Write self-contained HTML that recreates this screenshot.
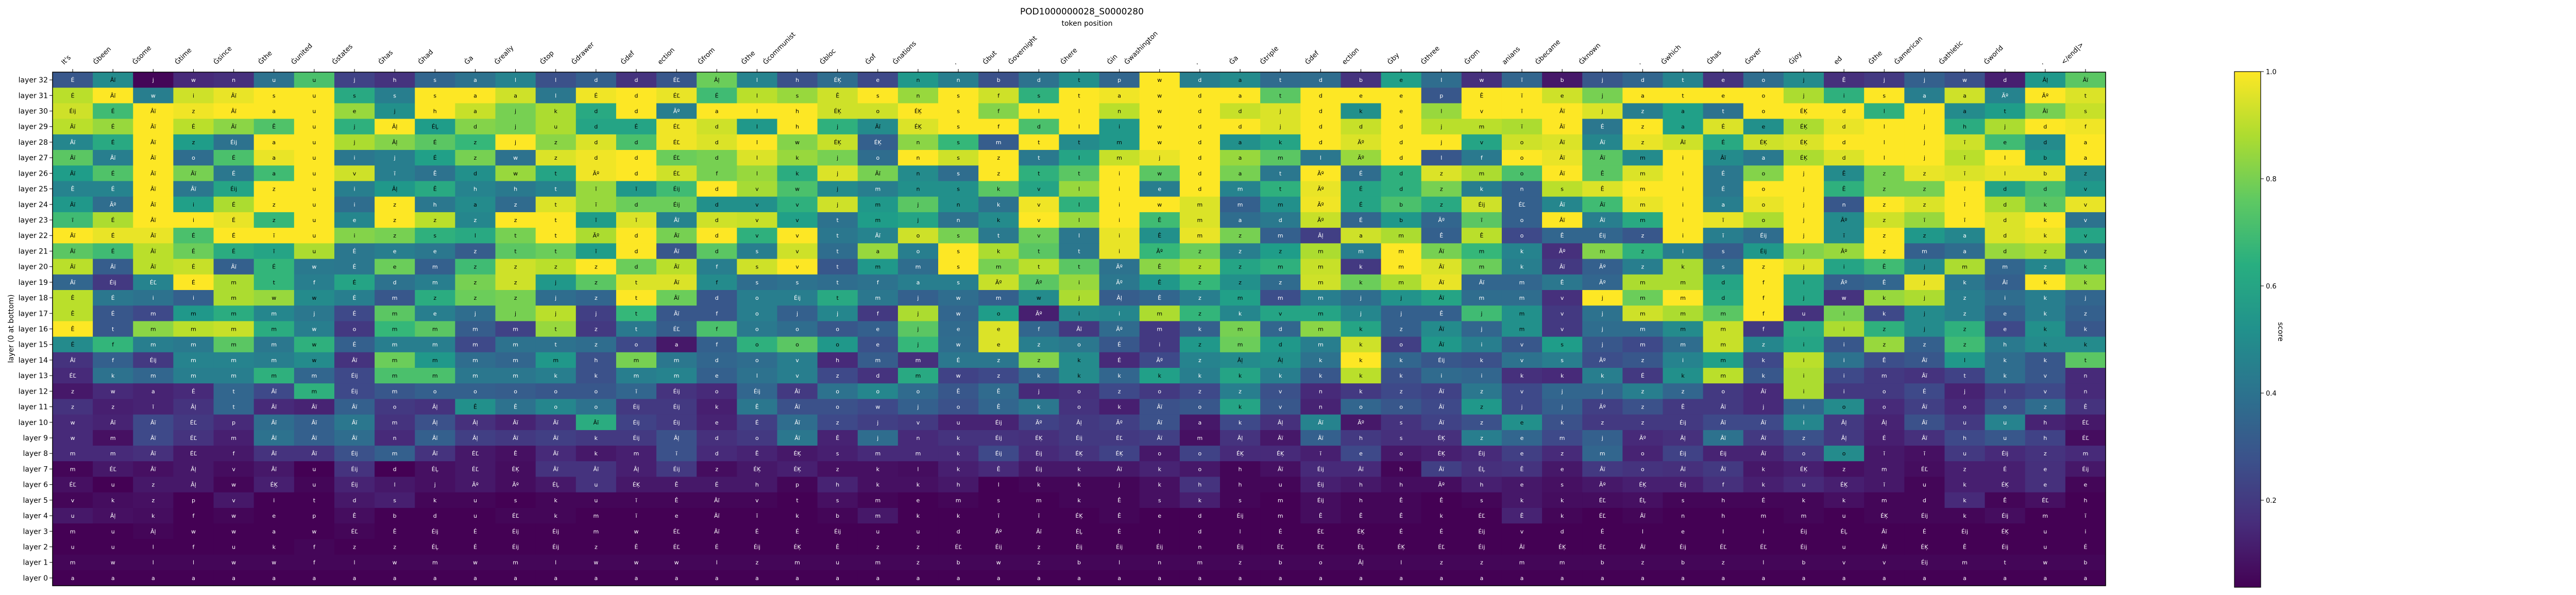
<!DOCTYPE html>
<html><head><meta charset="utf-8"><style>
html,body{margin:0;padding:0;background:#fff;}
svg{display:block;font-family:"DejaVu Sans","Liberation Sans",sans-serif;}
</style></head><body>
<svg id="chart" width="5100" height="1155" viewBox="0 0 5100 1155" xmlns="http://www.w3.org/2000/svg">
<text x="2100" y="28" text-anchor="middle" font-size="17">POD1000000028_S0000280</text>
<text x="2110" y="50" text-anchor="middle" font-size="14">token position</text>
<text transform="translate(26,638) rotate(-90)" text-anchor="middle" font-size="14">layer (0 at bottom)</text>
<g id="cells"></g><g id="xticks"></g><g id="yticks"></g>
<rect x="102" y="140" width="3985" height="997" fill="none" stroke="#000" stroke-width="1.5"/>
<defs><linearGradient id="vir" x1="0" y1="1" x2="0" y2="0">
<stop offset="0" stop-color="#440154"/><stop offset="0.125" stop-color="#472d7b"/><stop offset="0.25" stop-color="#3b528b"/><stop offset="0.375" stop-color="#2c728e"/><stop offset="0.5" stop-color="#21918c"/><stop offset="0.625" stop-color="#28ae80"/><stop offset="0.75" stop-color="#5ec962"/><stop offset="0.875" stop-color="#addc30"/><stop offset="1" stop-color="#fde725"/></linearGradient></defs>
<rect x="4337" y="139" width="51" height="1001" fill="url(#vir)" stroke="#000" stroke-width="1.2"/>
<g id="cbticks"></g>
<text transform="translate(4422,644) rotate(90)" text-anchor="middle" font-size="14">score</text>
</svg>
<script>
const tokens = ["It's","Ġbeen","Ġsome","Ġtime","Ġsince","Ġthe","Ġunited","Ġstates","Ġhas","Ġhad","Ġa","Ġreally","Ġtop","Ġdrawer","Ġdef","ection","Ġfrom","Ġthe","Ġcommunist","Ġbloc","Ġof","Ġnations",".","Ġbut","Ġovernight","Ġhere","Ġin","Ġwashington",".","Ġa","Ġtriple","Ġdef","ection","Ġby","Ġthree","Ġrom","anians","Ġbecame","Ġknown",".","Ġwhich","Ġhas","Ġover","Ġjoy","ed","Ġthe","Ġamerican","Ġathletic","Ġworld",".","</end|>"];
const layers = [32,31,30,29,28,27,26,25,24,23,22,21,20,19,18,17,16,15,14,13,12,11,10,9,8,7,6,5,4,3,2,1,0];
const colorbarTicks = [0.2,0.4,0.6,0.8,1.0];
const layer32 = [0.3,0.5,0.05,0.15,0.17,0.4,0.72,0.23,0.18,0.35,0.4,0.47,0.28,0.33,0.18,0.3,0.78,0.47,0.28,0.38,0.25,0.55,0.45,0.28,0.4,0.52,0.35,1,0.45,0.5,0.37,0.38,0.18,0.58,0.38,0.17,0.35,0.1,0.3,0.35,0.47,0.18,0.38,0.5,0.17,0.2,0.33,0.28,0.12,0.55,0.75];
const layer31 = [0.9,1,0.45,0.93,0.97,1,1,0.62,0.45,1,1,0.93,0.42,0.98,1,0.97,0.7,0.9,0.85,0.93,1,0.85,1,0.93,0.65,1,0.98,1,1,1,0.75,1,1,1,0.3,1,1,0.93,0.8,1,1,1,1,0.88,0.65,1,0.45,0.93,0.47,1,0.95];
const layer30 = [0.93,0.7,1,0.98,1,1,1,0.85,0.52,1,0.92,0.8,0.88,0.62,1,0.45,1,1,1,0.93,0.93,1,1,0.82,1,1,0.9,1,1,0.92,0.95,1,0.52,1,0.85,1,1,1,0.95,0.45,0.58,0.4,1,1,1,0.65,1,0.5,0.57,0.8,0.92];
const layer29 = [0.9,0.85,1,0.9,0.83,0.73,1,0.65,1,0.57,0.82,0.8,0.88,0.6,0.6,0.98,0.93,0.55,1,0.65,0.5,0.95,1,1,0.72,1,0.55,1,1,1,0.95,1,0.92,1,0.9,0.9,0.88,1,0.42,1,0.58,0.95,0.52,0.88,0.97,1,1,0.63,0.88,1,0.98];
const layer28 = [0.48,0.62,1,0.57,0.4,1,1,0.88,0.82,0.75,0.68,1,0.83,0.95,0.72,0.98,0.95,1,0.82,0.92,0.33,0.83,0.68,0.32,1,0.5,0.55,1,1,0.52,0.6,1,0.95,1,1,0.6,0.93,0.95,0.48,0.97,0.93,0.62,0.93,0.95,1,1,1,0.93,0.7,0.5,1];
const layer27 = [0.75,0.45,1,0.38,0.72,0.97,1,0.42,0.45,0.58,0.8,0.4,0.95,0.98,1,0.78,0.8,0.95,0.85,0.8,0.38,1,0.93,1,0.43,0.6,0.92,0.97,1,0.85,0.75,0.42,0.85,1,0.3,0.43,1,0.97,0.75,0.5,1,0.5,0.43,0.88,0.95,1,1,0.9,1,0.55,1];
const layer26 = [0.57,0.73,1,0.8,0.42,0.7,1,0.93,0.45,0.4,0.52,0.85,0.6,0.98,1,0.93,0.8,0.85,0.63,0.95,0.8,0.5,0.38,1,0.65,0.75,1,0.75,1,0.8,0.42,1,0.38,0.65,0.95,0.88,0.72,1,0.75,0.95,1,0.42,0.82,1,0.5,0.8,0.97,0.95,0.97,0.97,0.5];
const layer25 = [0.47,0.47,1,0.42,0.6,1,1,0.45,0.55,0.62,0.47,0.43,0.47,0.85,0.55,0.7,1,0.87,0.72,0.5,0.45,0.52,0.52,0.75,0.6,0.85,1,0.45,1,0.47,0.65,0.97,0.6,0.65,0.8,0.45,0.33,0.9,0.95,1,1,0.42,1,1,0.65,0.8,0.8,1,0.6,0.72,0.55];
const layer24 = [0.55,0.38,1,0.58,0.88,1,1,0.38,1,0.42,0.5,0.37,0.95,0.85,0.78,0.78,0.52,0.52,0.65,0.93,0.55,0.75,0.52,0.4,0.98,0.65,1,1,0.95,0.33,0.52,0.98,0.6,0.72,0.62,0.93,0.33,0.48,0.7,0.97,1,0.45,0.97,1,0.3,1,0.95,1,0.88,0.75,0.97];
const layer23 = [0.7,0.88,1,1,0.97,0.68,1,0.48,1,0.9,0.48,1,1,0.57,0.95,0.47,0.93,0.92,0.58,0.4,0.57,0.6,0.4,0.5,1,0.85,1,0.7,0.95,0.38,0.43,0.92,0.35,0.55,0.35,0.75,0.33,1,0.45,0.62,1,0.97,0.88,1,0.5,0.93,0.85,1,0.95,1,0.4];
const layer22 = [1,0.97,0.97,0.72,1,1,1,0.82,0.8,0.65,0.62,0.8,1,0.88,1,0.8,1,0.65,1,0.42,0.47,0.93,0.8,0.43,0.78,0.42,0.97,0.52,0.97,0.8,0.33,0.22,0.93,0.88,0.33,0.9,0.25,0.35,0.35,0.3,1,0.45,0.38,1,0.5,1,0.55,0.48,0.95,0.97,0.6];
const layer21 = [0.75,0.7,0.9,0.78,0.63,0.6,0.88,0.42,0.45,0.42,0.32,0.75,0.78,0.57,1,0.3,0.75,0.45,0.93,0.38,0.85,0.45,1,0.88,0.75,0.42,0.97,0.68,0.78,0.45,0.57,0.88,0.45,1,0.8,0.68,0.47,0.17,0.82,0.65,0.45,0.32,0.55,0.82,0.85,1,0.33,0.38,0.85,0.88,0.38];
const layer20 = [0.9,0.32,0.9,0.92,0.33,0.67,0.43,0.42,0.78,0.33,0.7,0.93,0.9,1,0.78,0.9,0.45,0.93,1,0.3,0.55,0.38,1,0.8,0.9,0.75,0.4,0.83,0.88,0.6,0.65,0.92,0.2,1,0.95,0.78,0.45,0.2,0.33,0.45,0.88,0.4,1,0.95,0.6,0.7,0.5,0.88,0.35,0.48,0.7];
const layer19 = [0.35,0.2,0.47,1,0.88,0.67,0.45,0.6,0.4,0.45,0.8,0.93,0.55,0.75,0.95,0.95,0.5,0.38,0.4,0.38,0.4,0.45,0.45,0.92,0.75,0.85,0.42,0.55,0.68,0.52,0.37,0.93,0.78,0.88,0.97,0.35,0.35,0.42,0.35,0.88,0.88,0.6,1,0.6,0.33,0.35,0.97,0.42,0.33,1,0.85];
const layer18 = [0.9,0.42,0.4,0.33,0.88,0.85,0.5,0.45,0.3,0.63,0.78,0.8,0.38,0.35,1,0.78,0.3,0.45,0.45,0.62,0.42,0.33,0.38,0.33,0.5,0.88,0.32,0.35,0.45,0.58,0.27,0.45,0.38,0.53,0.6,0.38,0.38,0.17,1,0.78,1,0.62,1,0.6,0.18,0.85,0.88,0.45,0.38,0.45,0.35];
const layer17 = [0.9,0.3,0.25,0.55,0.63,0.48,0.42,0.25,0.75,0.45,0.38,0.8,0.9,0.22,0.68,0.3,0.3,0.45,0.33,0.48,0.2,0.88,0.35,0.57,0.12,0.5,0.48,0.88,0.67,0.48,0.6,0.6,0.48,0.33,0.33,0.7,0.52,0.2,0.4,0.93,0.88,0.75,1,0.18,0.8,0.25,0.5,0.45,0.33,0.45,0.33];
const layer16 = [1,0.3,0.83,0.9,0.92,0.63,0.45,0.2,0.68,0.75,0.32,0.23,0.85,0.2,0.43,0.32,0.72,0.43,0.38,0.3,0.33,0.75,0.37,0.95,0.35,0.2,0.37,0.2,0.33,0.8,0.35,0.83,0.6,0.33,0.5,0.35,0.52,0.2,0.38,0.38,0.5,0.92,0.2,0.62,0.88,0.65,0.5,0.65,0.25,0.52,0.3];
const layer15 = [0.5,0.67,0.45,0.43,0.75,0.42,0.65,0.33,0.45,0.45,0.25,0.4,0.4,0.38,0.25,0.1,0.33,0.65,0.75,0.55,0.28,0.68,0.38,0.95,0.45,0.42,0.3,0.2,0.55,0.78,0.55,0.45,0.93,0.22,0.55,0.45,0.3,0.57,0.3,0.25,0.38,0.92,0.48,0.6,0.3,0.85,0.33,0.7,0.43,0.5,0.5];
const layer14 = [0.18,0.33,0.2,0.47,0.47,0.45,0.5,0.18,0.78,0.55,0.38,0.35,0.55,0.28,0.8,0.42,0.35,0.38,0.45,0.15,0.32,0.17,0.42,0.42,0.82,0.5,0.15,0.25,0.47,0.5,0.52,0.4,1,0.35,0.3,0.28,0.4,0.45,0.27,0.3,0.47,0.58,0.25,0.9,0.4,0.27,0.3,0.55,0.38,0.3,0.75];
const layer13 = [0.15,0.4,0.35,0.45,0.45,0.65,0.35,0.25,0.72,0.72,0.42,0.42,0.45,0.28,0.45,0.47,0.33,0.4,0.45,0.25,0.18,0.62,0.23,0.25,0.35,0.5,0.35,0.58,0.45,0.6,0.45,0.3,0.9,0.28,0.37,0.35,0.17,0.15,0.45,0.2,0.52,0.9,0.3,0.88,0.25,0.2,0.18,0.23,0.38,0.3,0.15];
const layer12 = [0.1,0.15,0.13,0.15,0.35,0.25,0.65,0.25,0.3,0.33,0.33,0.32,0.3,0.3,0.35,0.18,0.15,0.35,0.2,0.4,0.48,0.37,0.3,0.37,0.15,0.17,0.25,0.2,0.25,0.45,0.28,0.15,0.2,0.25,0.23,0.42,0.25,0.35,0.35,0.45,0.35,0.2,0.15,0.88,0.2,0.2,0.25,0.13,0.22,0.25,0.15];
const layer11 = [0.18,0.12,0.13,0.18,0.35,0.15,0.13,0.33,0.2,0.18,0.52,0.4,0.48,0.4,0.2,0.2,0.12,0.42,0.28,0.28,0.25,0.33,0.28,0.35,0.42,0.18,0.12,0.28,0.3,0.6,0.3,0.13,0.35,0.3,0.25,0.55,0.25,0.33,0.22,0.28,0.2,0.2,0.15,0.35,0.5,0.15,0.22,0.15,0.28,0.38,0.18];
const layer10 = [0.15,0.13,0.25,0.2,0.15,0.38,0.33,0.42,0.18,0.28,0.17,0.13,0.18,0.63,0.23,0.2,0.13,0.22,0.38,0.25,0.22,0.2,0.13,0.13,0.23,0.2,0.22,0.28,0.1,0.25,0.17,0.47,0.1,0.18,0.23,0.28,0.52,0.28,0.2,0.2,0.2,0.25,0.25,0.48,0.2,0.13,0.28,0.2,0.47,0.13,0.1];
const layer9 = [0.15,0.08,0.25,0.18,0.12,0.4,0.33,0.38,0.15,0.33,0.22,0.2,0.22,0.2,0.2,0.28,0.17,0.2,0.42,0.13,0.38,0.15,0.18,0.18,0.17,0.2,0.2,0.22,0.08,0.18,0.1,0.33,0.2,0.17,0.17,0.45,0.35,0.25,0.33,0.15,0.17,0.4,0.2,0.28,0.2,0.12,0.17,0.25,0.3,0.23,0.07];
const layer8 = [0.15,0.15,0.17,0.1,0.1,0.18,0.18,0.28,0.33,0.18,0.1,0.08,0.15,0.1,0.12,0.28,0.15,0.13,0.1,0.12,0.15,0.15,0.15,0.25,0.15,0.18,0.23,0.1,0.23,0.15,0.15,0.12,0.25,0.1,0.12,0.15,0.22,0.15,0.35,0.13,0.23,0.13,0.13,0.2,0.5,0.1,0.08,0.2,0.15,0.18,0.15];
const layer7 = [0.05,0.1,0.08,0.1,0.07,0.1,0.03,0.18,0.03,0.08,0.1,0.07,0.18,0.18,0.12,0.2,0.07,0.1,0.12,0.08,0.08,0.07,0.12,0.15,0.1,0.1,0.1,0.13,0.1,0.05,0.08,0.15,0.15,0.05,0.22,0.17,0.18,0.1,0.2,0.18,0.17,0.2,0.1,0.12,0.08,0.1,0.07,0.12,0.12,0.17,0.1];
const layer6 = [0.08,0.03,0.1,0.1,0.05,0.12,0.05,0.13,0.1,0.08,0.1,0.07,0.1,0.18,0.1,0.1,0.1,0.1,0.05,0.13,0.08,0.08,0.1,0.03,0.05,0.05,0.05,0.08,0.18,0.05,0.05,0.12,0.1,0.07,0.07,0.12,0.1,0.08,0.1,0.12,0.12,0.17,0.12,0.15,0.12,0.1,0.05,0.12,0.12,0.17,0.05];
const layer5 = [0.05,0.07,0.08,0.02,0.1,0.03,0.03,0.1,0.12,0.05,0.05,0.03,0.05,0.05,0.05,0.05,0.05,0.05,0.03,0.08,0.05,0.03,0.05,0.03,0.03,0.05,0.05,0.08,0.12,0.05,0.03,0.07,0.05,0.05,0.03,0.05,0.1,0.07,0.07,0.08,0.05,0.05,0.05,0.05,0.08,0.05,0.05,0.15,0.05,0.08,0.03];
const layer4 = [0.1,0.08,0.07,0.03,0.05,0.03,0.03,0.07,0.03,0.03,0.03,0.05,0.05,0.03,0.03,0.03,0.03,0.03,0.03,0.05,0.1,0.03,0.03,0.03,0.03,0.03,0.05,0.03,0.03,0.03,0.03,0.07,0.05,0.05,0.03,0.03,0.13,0.05,0.03,0.05,0.03,0.03,0.03,0.05,0.03,0.05,0.05,0.05,0.07,0.03,0.03];
const layer3 = [0.03,0.03,0.05,0.03,0.03,0.03,0.03,0.05,0.03,0.03,0.03,0.03,0.03,0.02,0.02,0.03,0.03,0.03,0.03,0.03,0.03,0.03,0.03,0.03,0.03,0.03,0.03,0.03,0.03,0.03,0.03,0.03,0.03,0.03,0.03,0.03,0.03,0.03,0.03,0.03,0.03,0.03,0.03,0.03,0.03,0.03,0.03,0.03,0.03,0.03,0.03];
const layer2 = [0.02,0.02,0.03,0.02,0.02,0.02,0.05,0.02,0.02,0.03,0.02,0.02,0.02,0.02,0.02,0.02,0.02,0.02,0.02,0.02,0.02,0.02,0.02,0.02,0.02,0.02,0.02,0.02,0.02,0.02,0.02,0.02,0.02,0.02,0.02,0.02,0.02,0.02,0.02,0.02,0.02,0.02,0.02,0.02,0.02,0.02,0.02,0.02,0.02,0.02,0.02];
const layer1 = [0.05,0.05,0.05,0.05,0.05,0.05,0.05,0.05,0.05,0.05,0.05,0.05,0.05,0.05,0.05,0.05,0.05,0.05,0.05,0.05,0.05,0.05,0.05,0.05,0.05,0.05,0.05,0.05,0.05,0.05,0.05,0.05,0.05,0.05,0.05,0.05,0.05,0.05,0.05,0.05,0.05,0.05,0.05,0.05,0.05,0.05,0.05,0.05,0.05,0.05,0.05];
const layer0 = [0,0,0,0,0,0,0,0,0,0,0,0,0,0,0,0,0,0,0,0,0,0,0,0,0,0,0,0,0,0,0,0,0,0,0,0,0,0,0,0,0,0,0,0,0,0,0,0,0,0,0];
const text32 = "É Âï j w n u u j h s a l l d d ÉĽ Âļ l h ÉĶ e n n b d t p w d a t d b e l w ĩ b j d t e o j Ê j j w d Âļ Âï";
const text31 = "É Âï w i Âï s u s s s a a l É d ÉĽ É l s Ê s n s f s t a w d a t d e e p Ê ĩ e j a t e o j i s a a Ãº Ãº t";
const text30 = "Éij É Âï z Âï a u e j h a j k d d Ãº a l h ÉĶ o ÉĶ s f l l n w d d j d k e l v ĩ Âï j z a t o ÉĶ d l j a t Âï s";
const text29 = "Âï É Âï É Âï Ê u j Âļ ÉĻ d j u d É ÉĽ d l h j Âï ÉĶ s f d l i w d d j d d d j m ĩ Âï É z a É e ÉĶ d l j h j d f";
const text28 = "Âï É Âï z Éij a u j Âļ É z j z d d ÉĽ d l w ÉĶ ÉĶ n s m t t m w d a k d Ãº d j v o Âï Âï z Âï É ÉĶ ÉĶ d l j ĩ e d a";
const text27 = "Âï Âï Âï o É a u i j É z w z d d ÉĽ d l k j o n s z t l m j d a m l Ãº d l f o Âï Âï m i Âï a ÉĶ d l j ĩ l b a";
const text26 = "Âï É Âï Âï É a u v ĩ Ê d w t Ãº d ÉĽ f l k j Âï n s z t t i w d a t Ãº É d z m o Âï Ê m i É o j Ê z z ĩ l b z";
const text25 = "Ê É Âï Âï Éij z u i Âļ Ê h h t ĩ ĩ Éij d v w j m n s k v l i e d m t Ãº É d z k n s Ê m i É o j Ê z z ĩ d d v";
const text24 = "Âï Ãº Âï i É z u i z h a z t ĩ d Éij d v v j m j n k v l i w m m m Ãº É b z Éij ÉĽ Âï Âï m i a o j n z z ĩ d k v";
const text23 = "ĩ É Âï i É z u e z z z z t ĩ ĩ Âï d v v t m j n k v l i Ê m a d Ãº É b Ãº ĩ o Âï Âï m i ĩ o j Ãº z ĩ ĩ d k v";
const text22 = "Âï É Âï É É ĩ u i z s l t t Ãº d Âï d v v t Âï o s t v l i Ê m z m Âļ a m Ê Ê o Ê Éij z i ĩ Éij j ĩ z z a d k v";
const text21 = "Âï É Âï É É ĩ u É e e z t t ĩ d Âï d s v t a o s k t t i Ãº z z z m m m Âï m k Ãº m z i s Éij j Ãº z m a d z v";
const text20 = "Âï Âï Âï É Âï É w É e m z z z z d Âï f s v t m m s m t t Ãº Ê z z m m k m Âï m k Âï Ãº z k s z j i Ê j m m z k";
const text19 = "Âï Éij ÉĽ É m t f É d m z z j z t Âï f s s t f a s Ãº Ãº i Ãº Ê z z z m k m Âï Âï m Ê Ãº m m d f i Ãº Ê j k Âï k k";
const text18 = "Ê É i i m w w É m z z z j z t Âï d o Éij t m j w m w j Âļ Ê z m m m j j Âï m m v j m m d f j w k j z i k j";
const text17 = "Ê É m m m m j É m e j j j j t Âï f o j j f j w o Ãº i i m z k v m j j Ê j m v j m m m f u i k j z e k z";
const text16 = "Ê t m m m m w o m m m m t z t ÉĽ f o o o e j e e f Âï Ãº m k m d m k z Âï j m v j m m m f i i z j z e k k";
const text15 = "É f m m m m w É m m m m t z o a f o o o e j w e z o É i z m d m k o Âï i v s j m m m z i i z z z h k k";
const text14 = "Âï f Éij m m m w Âï m m m m m h m m d o v h m m É z z k É Ãº z Âļ Âļ k k k Éij k v s Ãº z i m k i i Ê Âï l k k t";
const text13 = "ÉĽ k m m m m m Éij m m m m k k m m e l v z d m w z k k k k k k k k k k i i k k k É k m k i i m Âï t k v n";
const text12 = "z w a É t Âï m Éij m o o o o o ĩ Éij o Éij Âï o o o Ê Ê j o z o z z v n k z Âï z v j j z z o Âï i i o É j i v n";
const text11 = "z z ĩ Âļ t Âï Âï Âï o Âļ Ê Ê o o Éij Éij k Ê Âï o w j o Ê k o k Âï o k v n o o Âï z j j Ãº z Ê Âï j i o o Âï o o z Ê";
const text10 = "w Âï Âï ÉĽ p Âï Âï Âï m Âļ Âļ Âï Âï Âï Éij Éij e É Âï z j v u Éij Ãº Âļ Ãº Âï a k Âļ Âï Ãº s Âï z e k z z Éij Âï Âï i Âļ Âļ Âï u u h ÉĽ";
const text9 = "w m Âï ÉĽ m Âï Âï Âï n Âï Âļ Âï Âï k Éij Âļ d o Âï Ê j n k Éij ÉĶ Éij ÉĽ Âï m Âļ Âï Âï h s ÉĶ z e m j Ãº Âļ Âï Âï z Âļ É Âï h u h ÉĽ";
const text8 = "m m Âï ÉĽ f Âï Âï Éij m Âï ÉĽ Ê Âï k m ĩ d Ê ÉĶ s m m k Éij Éij ÉĶ ÉĶ o o ÉĶ ÉĶ ĩ e o ÉĶ Éij e z m o Éij Éij Âï o o ĩ ĩ u Éij z m";
const text7 = "m ÉĽ Âï Âļ v Âï u Éij d ÉĻ ÉĽ ÉĶ Âï Âï Âļ Éij z ÉĶ ÉĶ z k l k Ê Éij k Âï k o h Âï Éij Âï h Âï ÉĻ Ê e Âï o Âï Âï k ÉĶ z m ÉĽ z É e Éij";
const text6 = "ÉĽ u z Âļ w ÉĶ u Éij l j Ãº Ãº ÉĻ u ÉĶ Ê É h p h k k h l k k j k h h u Éij h h Ãº h e s Ãº ÉĶ Éij f k u ÉĶ ĩ u k ÉĶ e e";
const text5 = "v k z p v i t d s k u s k u ĩ Ê Âï v t s m e m s m k Ê s k s m Éij h Ê Ê s k k ÉĽ ÉĻ s h É k k m d k Ê ÉĽ h";
const text4 = "u Âļ k f w e p Ê b d u ÉĽ k m ĩ e Âï ĩ k b m k k ĩ ĩ ÉĶ Ê e d Éij m Ê Ê Ê k ÉĽ Ê k ÉĽ Âï n h m m u ÉĶ Éij k Éij m ĩ";
const text3 = "m u Âļ w w a w ÉĽ Ê Éij É Éij Éij m w ÉĽ Âï É É Éij u u d Ãº Âï ÉĻ É l d l É ÉĽ ÉĶ É É Éij v d É l e l i Éij ÉĻ Âï É Éij ÉĶ u i";
const text2 = "u u l f u k f z z ÉĻ É Éij Éij z Ê ÉĽ É Éij ÉĶ Ê z z ÉĽ Éij z Éij Éij Éij n Éij ÉĽ ÉĽ ÉĻ ÉĶ ÉĽ Éij Âï ÉĶ ÉĽ Âï Éij ÉĽ ÉĽ Éij u Âï ÉĶ Ê Éij u É";
const text1 = "m w l l w w f l w m w m l w w w l z m u m z b w z b l n m z b o Âļ l z z m m b z b z l b v v Éij m t w b";
const text0 = "a a a a a a a a a a a a a a a a a a a a a a a a a a a a a a a a a a a a a a a a a a a a a a a a a a a";

const scores = [layer32,layer31,layer30,layer29,layer28,layer27,layer26,layer25,layer24,layer23,layer22,layer21,layer20,layer19,layer18,layer17,layer16,layer15,layer14,layer13,layer12,layer11,layer10,layer9,layer8,layer7,layer6,layer5,layer4,layer3,layer2,layer1,layer0];
const texts = [text32,text31,text30,text29,text28,text27,text26,text25,text24,text23,text22,text21,text20,text19,text18,text17,text16,text15,text14,text13,text12,text11,text10,text9,text8,text7,text6,text5,text4,text3,text2,text1,text0].map(s=>s.split(" "));

const NS="http://www.w3.org/2000/svg";
const X0=102,X1=4087,Y0=140,Y1=1137;
const cw=(X1-X0)/tokens.length, ch=(Y1-Y0)/layers.length;
const xPos=i=>X0+i*cw;
const yPos=r=>Y0+r*ch;
const VMIN=0.0375,VMAX=1.0;
const CB0=139,CB1=1140;
const cbY=v=>CB1-(v-VMIN)/(VMAX-VMIN)*(CB1-CB0);
const vir=[[68,1,84],[72,40,120],[62,73,137],[49,104,142],[38,130,142],[31,158,137],[53,183,121],[110,206,88],[181,222,43],[253,231,37]];
function color(v){let t=Math.max(0,Math.min(1,(v-VMIN)/(VMAX-VMIN)))*(vir.length-1);let i=Math.min(Math.floor(t),vir.length-2),f=t-i;const a=vir[i],b=vir[i+1];return `rgb(${a.map((c,k)=>Math.round(c+(b[k]-c)*f)).join(",")})`;}
function mk(tag,attrs,parent){const e=document.createElementNS(NS,tag);for(const k in attrs)e.setAttribute(k,attrs[k]);parent.appendChild(e);return e;}

const cells=document.getElementById("cells");
scores.forEach((row,r)=>{row.forEach((v,c)=>{
  const rect=mk("rect",{x:xPos(c),y:yPos(r),width:cw+0.6,height:ch+0.6,fill:color(v)},cells);
  
  
  const t=mk("text",{x:xPos(c)+cw/2,y:yPos(r)+ch/2+4,"text-anchor":"middle","font-size":"11",fill:v<0.5?"#fff":"#000"},cells);
  
  
  t.textContent=texts[r][c]||"";
});});

const xt=document.getElementById("xticks");
tokens.forEach((tok,i)=>{
  const cx=xPos(i)+cw/2;
  const ln=mk("line",{x1:cx,y1:Y0-6,x2:cx,y2:Y0,stroke:"#000","stroke-width":1},xt);
  
  
  const t=mk("text",{"font-size":"13"},xt);
  
  
  t.textContent=tok;
  const L=t.getComputedTextLength();
  const sx=cx-L*0.7071-3, sy=126;
  t.setAttribute("transform",`translate(${sx},${sy}) rotate(-45)`);
});

const yt=document.getElementById("yticks");
layers.forEach((L,r)=>{
  const cy=yPos(r)+ch/2;
  const ln=mk("line",{x1:X0-6,y1:cy,x2:X0,y2:cy,stroke:"#000","stroke-width":1},yt);
  
  
  const t=mk("text",{x:X0-9,y:cy+5,"text-anchor":"end","font-size":"14"},yt);
  
  
  t.textContent="layer "+L;
});

const cbt=document.getElementById("cbticks");
colorbarTicks.forEach(v=>{
  const y=cbY(v);
  const ln=mk("line",{x1:4388,y1:y,x2:4394,y2:y,stroke:"#000","stroke-width":1},cbt);
  
  
  const t=mk("text",{x:4398,y:y+5,"font-size":"13"},cbt);
  
  
  t.textContent=v.toFixed(1);
});
</script>
</body></html>
